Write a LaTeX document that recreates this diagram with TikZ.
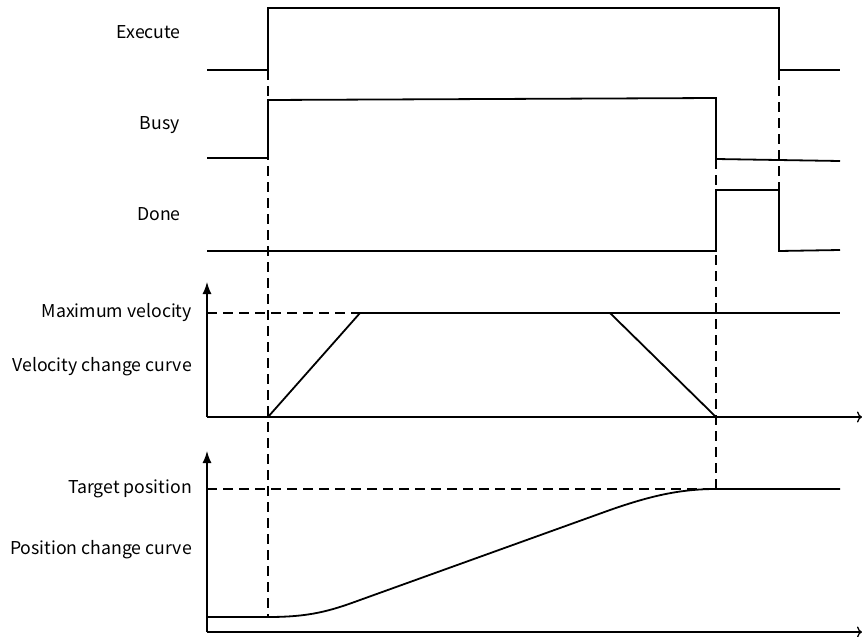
\documentclass[tikz,border=0pt]{standalone}
\usepackage{fontspec}
\setmainfont{Noto Sans CJK SC}
\usetikzlibrary{arrows.meta, positioning, calc}

\begin{document}
\begin{tikzpicture}[x=1pt, y=-1pt, font=\fontsize{17.7}{20}\selectfont,
  signal/.style={line width=1.8pt},
  guide/.style={line width=1.3pt, dash pattern=on 10pt off 6pt},
  axis/.style={line width=1.3pt},
  lbl/.style={anchor=east, inner sep=0pt}]
  \useasboundingbox (0,0) rectangle (862,637);
  % time marks
  \coordinate (T0) at (207,0);
  \coordinate (T1) at (268,0);
  \coordinate (T2) at (716,0);
  \coordinate (T3) at (779,0);
  \coordinate (TE) at (840,0);
  % labels
  \node[lbl] (exec) at (181,32) {Execute};
  \node[lbl] (busy) at (180,125) {Busy};
  \node[lbl] (done) at (181,214) {Done};
  \node[lbl] (vmax) at (192,313) {Maximum velocity};
  \node[lbl] (vcur) at (192,367) {Velocity change curve};
  \node[lbl] (ptgt) at (192,489) {Target position};
  \node[lbl] (pcur) at (192,550) {Position change curve};
  % signals
  \draw[signal] (207,70) -- (268,70) -- (268,8) -- (779,8) -- (779,70) -- (840,70);
  \draw[signal] (207,158) -- (268,158) -- (268,100) -- (716,98) -- (716,159) -- (840,161);
  \draw[signal] (207,251) -- (716,251) -- (716,190) -- (779,190) -- (779,251) -- (840,250);
  % velocity axes
  \coordinate (vO) at (207,417);
  \draw[axis, -{Latex[length=12pt, width=9pt]}] (vO) -- (207,282);
  \draw[axis, -{To[length=5pt, width=11pt]}] (vO) -- (862,417);
  \draw[guide] (207,313) -- (360,313);
  \draw[signal] (268,417) -- (360,313) -- (610,313) -- (716,417) -- (840,417);
  \draw[signal] (610,313) -- (840,313);
  % position axes
  \coordinate (pO) at (207,632);
  \draw[axis, -{Latex[length=12pt, width=9pt]}] (pO) -- (207,451);
  \draw[axis, -{To[length=5pt, width=11pt]}] (pO) -- (862,632);
  \draw[guide] (207,489) -- (716,489);
  \draw[signal] (207,617) -- (268,617) .. controls (310,617) and (330,611) .. (360,600)
    -- (610,510) .. controls (650,496) and (680,489) .. (716,489) -- (840,489);
  % time guides
  \draw[guide] (268,70) -- (268,617);
  \draw[guide] (716,159) -- (716,489);
  \draw[guide] (779,70) -- (779,190);
\end{tikzpicture}
\end{document}
